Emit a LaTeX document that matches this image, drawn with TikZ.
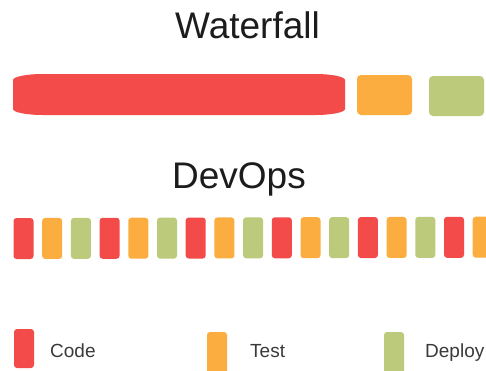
\documentclass[tikz,border=0pt]{standalone}
\usepackage{fontspec}
\setmainfont{Liberation Sans}
\definecolor{cred}{HTML}{F34B4A}
\definecolor{corange}{HTML}{FBAD3F}
\definecolor{cgreen}{HTML}{BCCA7B}
\definecolor{ctitle}{HTML}{1C1C1C}
\definecolor{clabel}{HTML}{3A3A3A}
\begin{document}
\begin{tikzpicture}[x=1pt,y=-1pt,
  blk/.style={draw=none,inner sep=0pt,outer sep=0pt,minimum width=20pt,minimum height=41pt,rounded corners=3pt,anchor=north west},
  bigblk/.style={draw=none,inner sep=0pt,outer sep=0pt,minimum width=55pt,minimum height=40pt,rounded corners=4pt,anchor=north west},
  title/.style={font=\fontsize{37}{40}\selectfont,text=ctitle,anchor=base,inner sep=0pt},
  lab/.style={font=\fontsize{19}{22}\selectfont,text=clabel,anchor=base west,inner sep=0pt}]
\useasboundingbox (0,0) rectangle (486,370);
\clip (0,0) rectangle (486,370);
\fill[white] (0,0) rectangle (486,370);
% Waterfall
\node[title] (wtitle) at (247.5,38) {Waterfall};
\fill[cred] (43,74) -- (315,74) .. controls (331.5,74) and (345,76.7) .. (345,80)
  -- (345,109) .. controls (345,112.3) and (331.5,115) .. (315,115)
  -- (43,115) .. controls (26.5,115) and (13,112.3) .. (13,109)
  -- (13,80) .. controls (13,76.7) and (26.5,74) .. (43,74) -- cycle;
\node[bigblk,fill=corange] (wtest) at (357,75) {};
\node[bigblk,fill=cgreen] (wdeploy) at (429,76) {};
% DevOps
\node[title] (dtitle) at (239,188) {DevOps};
\foreach \i/\c in {0/cred,1/corange,2/cgreen,3/cred,4/corange,5/cgreen,6/cred,7/corange,8/cgreen,9/cred,10/corange,11/cgreen,12/cred,13/corange,14/cgreen,15/cred,16/corange}{
  \node[blk,fill=\c] (d\i) at ({13.5+28.7*\i},{218-0.08*\i}) {};
}
% Legend
\node[blk,fill=cred,minimum height=39pt] (lcode) at (14,329) {};
\node[blk,fill=corange,minimum height=45pt] (ltest) at (207,332) {};
\node[blk,fill=cgreen,minimum height=45pt] (ldeploy) at (384,332) {};
\node[lab] (tcode) at (50,357) {Code};
\node[lab] (ttest) at (250,357) {Test};
\node[lab] (tdeploy) at (425,357) {Deploy};
\end{tikzpicture}
\end{document}
